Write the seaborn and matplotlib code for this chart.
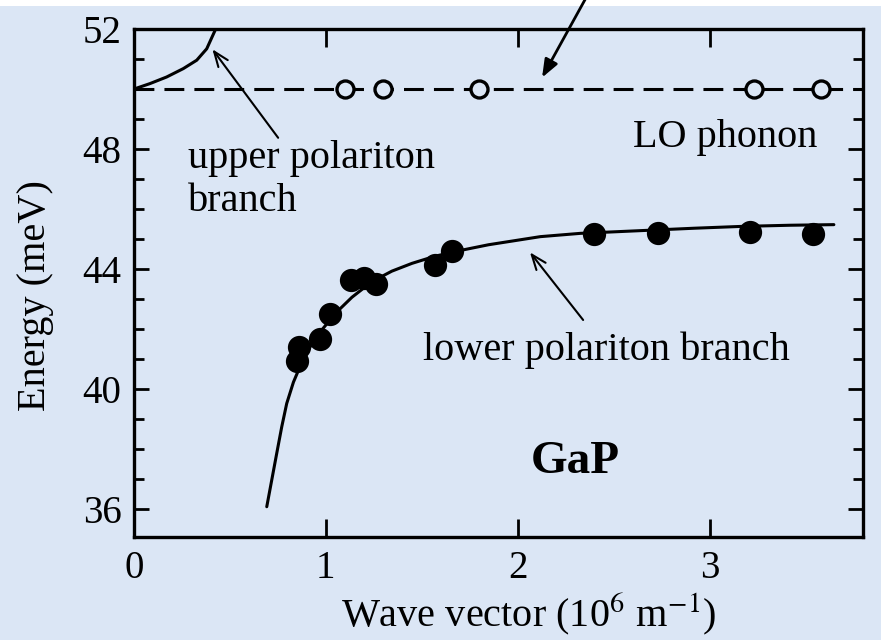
import numpy as np
import pandas as pd
import matplotlib
matplotlib.use("Agg")
import matplotlib.pyplot as plt
from matplotlib.patches import Rectangle
import seaborn as sns

# ---- data ----
# measured lower polariton points (filled circles)
lower_k = [0.85, 0.86, 0.97, 1.02, 1.13, 1.20, 1.26, 1.57, 1.66, 2.40, 2.73, 3.21, 3.54]
lower_E = [40.95, 41.40, 41.67, 42.50, 43.65, 43.70, 43.50, 44.15, 44.60, 45.17, 45.20, 45.23, 45.17]

# LO phonon points (open circles)
lo_k = [1.10, 1.30, 1.80, 3.23, 3.58]
lo_E = [50.0, 50.0, 50.0, 50.0, 50.0]
lo_energy = 50.0

# theoretical lower branch curve
curve_lo_k = [0.692, 0.718, 0.744, 0.770, 0.796, 0.831, 0.866, 0.918, 0.979, 1.049,
              1.136, 1.240, 1.344, 1.449, 1.570, 1.709, 1.848, 2.118, 2.327,
              2.57, 2.918, 3.16, 3.42, 3.648]
curve_lo_E = [36.08, 36.97, 37.86, 38.74, 39.52, 40.23, 40.76, 41.41, 41.97, 42.52,
              43.06, 43.58, 43.93, 44.19, 44.43, 44.63, 44.81, 45.08, 45.19,
              45.26, 45.36, 45.42, 45.46, 45.48]

# theoretical upper branch curve
curve_up_k = [0.005, 0.083, 0.17, 0.257, 0.327, 0.379, 0.423]
curve_up_E = [50.01, 50.18, 50.40, 50.68, 50.96, 51.34, 51.96]

x_ticks = [0, 1, 2, 3]
y_ticks = [36, 40, 44, 48, 52]

# ---- style ----
sns.set_theme(style="ticks")
bg = "#dbe6f5"
plt.rcParams["font.family"] = ["Liberation Serif", "DejaVu Serif"]
plt.rcParams["mathtext.fontset"] = "stix"
plt.rcParams["text.color"] = "black"
plt.rcParams["axes.labelcolor"] = "black"

fig = plt.figure(figsize=(8.81, 6.40), dpi=100, facecolor=bg)
ax = fig.add_axes([0.1521, 0.1609, 0.8275, 0.7938])
ax.set_facecolor(bg)
fig.patches.append(Rectangle((0, 1 - 6 / 640), 1, 6 / 640, transform=fig.transFigure,
                             facecolor="white", edgecolor="none", zorder=-1))

# LO phonon dashed line
ax.axhline(lo_energy, color="black", lw=2.2, dashes=(6.5, 3.3), zorder=2)

# curves
sns.lineplot(x=curve_lo_k, y=curve_lo_E, sort=False, color="black", lw=2.2, ax=ax, zorder=3)
sns.lineplot(x=curve_up_k, y=curve_up_E, sort=False, color="black", lw=2.2, ax=ax, zorder=3)

# points
sns.scatterplot(x=lower_k, y=lower_E, s=240, color="black", edgecolor="black", ax=ax, zorder=4)
sns.scatterplot(x=lo_k, y=lo_E, s=150, facecolor=bg, edgecolor="black", linewidth=2.4, ax=ax, zorder=4)

ax.set_xlim(0, 3.80)
ax.set_ylim(35.07, 52)
ax.set_xticks(x_ticks)
ax.set_yticks(y_ticks)
ax.set_yticks(np.arange(36, 53, 1), minor=True)
ax.tick_params(axis="both", which="both", direction="in", top=True, right=True,
               labelsize=28, colors="black", width=2.0, pad=9)
ax.tick_params(axis="x", which="major", length=13)
ax.tick_params(axis="y", which="major", length=11)
ax.tick_params(axis="y", which="minor", length=7)
for s in ax.spines.values():
    s.set_linewidth(2.4)
    s.set_color("black")

ax.set_xlabel("Wave vector (10$^{6}$ m$^{-1}$)", fontsize=29, va="center")
ax.set_ylabel("Energy (meV)", fontsize=29, va="center")
ax.xaxis.set_label_coords(0.542, -0.150)
ax.yaxis.set_label_coords(-0.135, 0.476)

# annotations
ax.text(0.28, 47.70, "upper polariton", fontsize=29, ha="left", va="center")
ax.text(0.28, 46.25, "branch", fontsize=29, ha="left", va="center")
ax.text(3.08, 48.37, "LO phonon", fontsize=29, ha="center", va="center")
ax.text(2.46, 41.30, "lower polariton branch", fontsize=29, ha="center", va="center")
ax.text(2.30, 37.57, "GaP", fontsize=34, fontweight="bold", ha="center", va="center")

ax.annotate("", xy=(0.40, 51.4), xytext=(0.76, 48.3),
            arrowprops=dict(arrowstyle="->,head_length=0.9,head_width=0.35", color="black", lw=1.5))
ax.annotate("", xy=(2.055, 44.63), xytext=(2.35, 42.23),
            arrowprops=dict(arrowstyle="->,head_length=0.9,head_width=0.35", color="black", lw=1.5))
ax.annotate("", xy=(2.12, 50.3), xytext=(2.37, 53.2), annotation_clip=False,
            arrowprops=dict(arrowstyle="-|>,head_length=0.9,head_width=0.35", color="black", lw=2.0))

fig.savefig("out.png", dpi=100, facecolor=bg)
